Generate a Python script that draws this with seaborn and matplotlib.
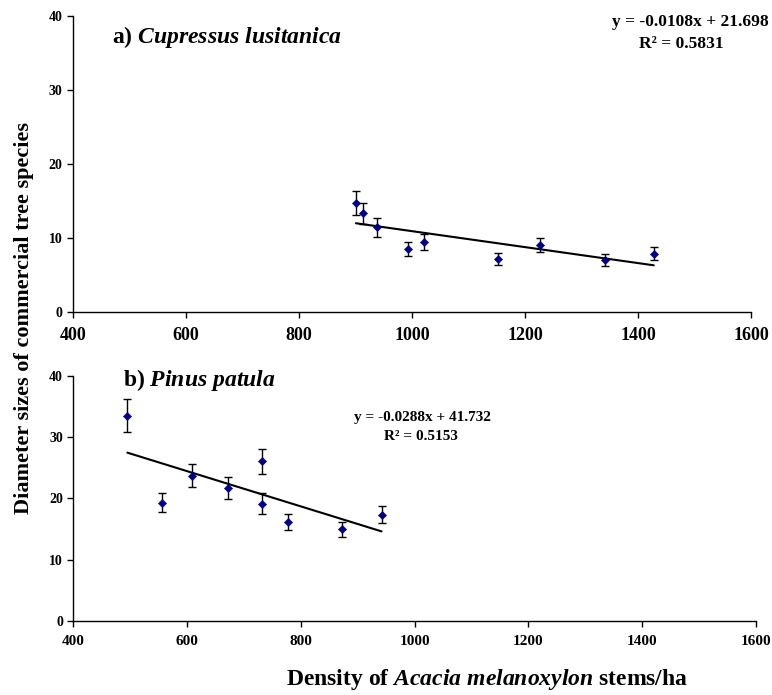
import numpy as np
import pandas as pd
import matplotlib
matplotlib.use("Agg")
import matplotlib.pyplot as plt
import seaborn as sns

# Data
cup_density = [901, 913, 938, 993, 1022, 1153, 1226, 1341, 1428]
cup_diameter = [14.7, 13.3, 11.4, 8.45, 9.45, 7.15, 9.0, 6.95, 7.85]
cup_err = [1.65, 1.45, 1.27, 0.93, 1.04, 0.77, 0.97, 0.79, 0.86]
cup_slope, cup_intercept = -0.0108, 21.698

pin_density = [495, 556, 609, 672, 732, 732, 778, 872, 942]
pin_diameter = [33.55, 19.3, 23.7, 21.7, 26.05, 19.1, 16.15, 14.95, 17.35]
pin_err = [2.7, 1.55, 1.9, 1.8, 2.1, 1.7, 1.33, 1.2, 1.4]
pin_slope, pin_intercept = -0.0288, 41.732

x_ticks = [400, 600, 800, 1000, 1200, 1400, 1600]
y_ticks = [0, 10, 20, 30, 40]

# Plot styling
sns.set_style("ticks")
plt.rcParams["font.family"] = ["Liberation Serif", "DejaVu Serif"]
plt.rcParams["font.weight"] = "bold"
plt.rcParams["mathtext.fontset"] = "custom"
plt.rcParams["mathtext.rm"] = "Liberation Serif:bold"
plt.rcParams["mathtext.it"] = "Liberation Serif:bold:italic"
plt.rcParams["mathtext.bf"] = "Liberation Serif:bold"
for key in ["text.color", "xtick.color", "ytick.color", "axes.labelcolor"]:
    plt.rcParams[key] = "black"

fig = plt.figure(figsize=(7.72, 6.95), dpi=100)
ax_a = fig.add_axes([0.0942, 0.5515, 0.8786, 0.4255])
ax_b = fig.add_axes([0.0950, 0.1069, 0.8840, 0.3520])


def draw_panel(ax, xs, ys, errs, slope, intercept):
    df = pd.DataFrame({"density": xs, "diameter": ys})
    ax.errorbar(xs, ys, yerr=errs, fmt="none", ecolor="black",
                elinewidth=1, capsize=3, capthick=1, zorder=2)
    sns.scatterplot(data=df, x="density", y="diameter", marker="D",
                    color="#000080", s=18, edgecolor="#000080", ax=ax, zorder=3)
    line_x = np.array([min(xs), max(xs)])
    ax.plot(line_x, slope * line_x + intercept, color="black", lw=1.5, zorder=1)
    ax.set_xlim(400, 1600)
    ax.set_ylim(0, 40)
    ax.set_xticks(x_ticks)
    ax.set_yticks(y_ticks)
    ax.set_xlabel("")
    ax.set_ylabel("")
    ax.tick_params(axis="y", labelsize=10, length=4, width=1, direction="out")
    for side in ["top", "right"]:
        ax.spines[side].set_visible(False)
    for side in ["left", "bottom"]:
        ax.spines[side].set_color("black")
        ax.spines[side].set_linewidth(1)


# Panel a
draw_panel(ax_a, cup_density, cup_diameter, cup_err, cup_slope, cup_intercept)
ax_a.tick_params(axis="x", labelsize=13, length=4, width=1, pad=7)
ax_a.text(0.058, 0.908, r"a) $\mathit{Cupressus\ lusitanica}$", transform=ax_a.transAxes,
          fontsize=17, ha="left", va="baseline")
fig.text(0.996, 0.9626, "y = -0.0108x + 21.698", fontsize=12.5, ha="right", va="baseline")
fig.text(0.882, 0.9305, "R² = 0.5831", fontsize=12.5, ha="center", va="baseline")

# Panel b
draw_panel(ax_b, pin_density, pin_diameter, pin_err, pin_slope, pin_intercept)
ax_b.tick_params(axis="x", labelsize=11, length=4, width=1, pad=6)
ax_b.text(0.073, 0.959, r"b) $\mathit{Pinus\ patula}$", transform=ax_b.transAxes,
          fontsize=17, ha="left", va="baseline")
fig.text(0.547, 1 - 421 / 695, "y = -0.0288x + 41.732", fontsize=11, ha="center", va="baseline")
fig.text(0.545, 1 - 440 / 695, "R² = 0.5153", fontsize=11, ha="center", va="baseline")

# Shared axis titles
fig.text(0.031, 0.5425, "Diameter sizes of commercial tree species", rotation=90,
         fontsize=16, ha="center", va="center")
fig.text(0.631, 0.004, r"Density of $\mathit{Acacia\ melanoxylon}$ stems/ha",
         fontsize=17, ha="center", va="bottom")

plt.savefig("out.png", dpi=100)
